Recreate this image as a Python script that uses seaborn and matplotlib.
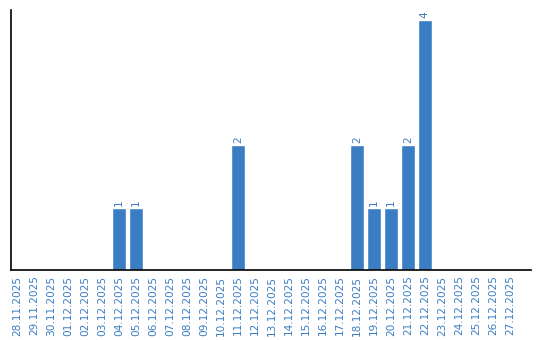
import matplotlib
matplotlib.use("Agg")
import matplotlib.pyplot as plt
import seaborn as sns
import pandas as pd

dates = ["28.11.2025", "29.11.2025", "30.11.2025", "01.12.2025", "02.12.2025", "03.12.2025",
         "04.12.2025", "05.12.2025", "06.12.2025", "07.12.2025", "08.12.2025", "09.12.2025",
         "10.12.2025", "11.12.2025", "12.12.2025", "13.12.2025", "14.12.2025", "15.12.2025",
         "16.12.2025", "17.12.2025", "18.12.2025", "19.12.2025", "20.12.2025", "21.12.2025",
         "22.12.2025", "23.12.2025", "24.12.2025", "25.12.2025", "26.12.2025", "27.12.2025"]
counts = [0, 0, 0, 0, 0, 0,
          1, 1, 0, 0, 0, 0,
          0, 2, 0, 0, 0, 0,
          0, 0, 2, 1, 1, 2,
          4, 0, 0, 0, 0, 0]

df = pd.DataFrame({"date": dates, "count": counts})
blue = "#3b7dc3"

sns.set_style("white")
fig = plt.figure(figsize=(5.4, 3.4), dpi=100)
ax = fig.add_axes([11/540, 70/340, 520/540, 260/340])
sns.barplot(data=df, x="date", y="count", color=blue, width=0.82, saturation=1, ax=ax)

for i, v in enumerate(counts):
    if v > 0:
        ax.text(i, v + 0.03, str(v), rotation=90, ha="center", va="bottom",
                color=blue, fontsize=7.5)

ax.set_xlim(-0.35, 30.24)
ax.set_ylim(0, 4.16)
ax.set_xlabel("")
ax.set_ylabel("")
ax.set_yticks([])
ax.tick_params(axis="x", length=0, pad=4, labelsize=7.6, labelcolor=blue, rotation=90)
for s in ["top", "right"]:
    ax.spines[s].set_visible(False)
for s in ["left", "bottom"]:
    ax.spines[s].set_color("black")
    ax.spines[s].set_linewidth(1.2)

fig.savefig("out.png", dpi=100)
